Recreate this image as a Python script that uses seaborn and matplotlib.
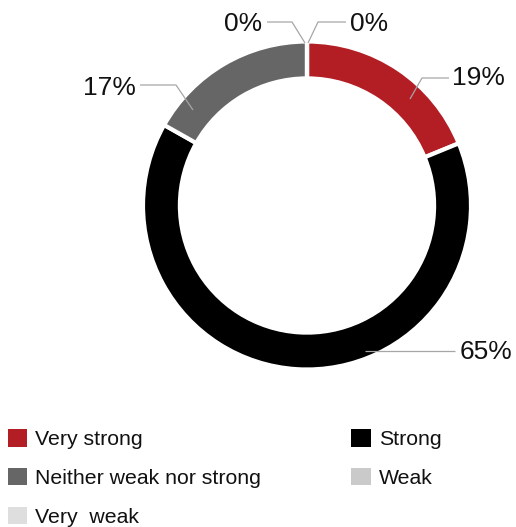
import matplotlib
matplotlib.use("Agg")
import matplotlib.pyplot as plt
from matplotlib.patches import Patch
import numpy as np
import seaborn as sns

# Survey answers and their shares (%)
categories = ["Very strong", "Strong", "Neither weak nor strong", "Weak", "Very  weak"]
shares = [19, 65, 17, 0, 0]
colors = ["#B31E24", "#000000", "#666666", "#C9CAC9", "#DDDEDD"]

sns.set_theme(style="white")
plt.rcParams["font.family"] = ["Liberation Sans", "DejaVu Sans"]

W, H = 516, 527
fig = plt.figure(figsize=(W / 100, H / 100), dpi=100)
ax = fig.add_axes([0, 0, 1, 1])

# ring geometry in pixels
cx, cy, R = 307, 205.5, 164

def to_data(px, py):
    return (px - cx) / R, (cy - py) / R

wedges, _ = ax.pie(
    shares, colors=colors, startangle=90, counterclock=False, radius=1,
    wedgeprops=dict(width=0.225, edgecolor="white", linewidth=3),
)

ax.set_xlim(-cx / R, (W - cx) / R)
ax.set_ylim(-(H - cy) / R, cy / R)
ax.set_aspect("auto")
ax.axis("off")

# leader lines (pixel layout): anchor, optional elbow, end, text anchor, alignment
label_layout = [
    dict(pts=[(410, 99), (422, 78), (449, 78)], text=(452, 78), ha="left"),
    dict(pts=[(365, 351), (455, 351)], text=(460, 352), ha="left"),
    dict(pts=[(193, 110), (176, 85), (140, 85)], text=(136, 88), ha="right"),
    dict(pts=[(305, 43), (292, 22), (267, 22)], text=(262, 24), ha="right"),
    dict(pts=[(308, 43), (318, 22), (346, 22)], text=(350, 24), ha="left"),
]

for val, lay in zip(shares, label_layout):
    xs, ys = zip(*[to_data(*p) for p in lay["pts"]])
    ax.plot(xs, ys, color="#A6A6A6", lw=0.9, solid_capstyle="butt")
    tx, ty = to_data(*lay["text"])
    ax.text(tx, ty, f"{val}%", ha=lay["ha"], va="center", fontsize=19, color="#111111")

# legend: two columns, filled column-wise
order = [0, 2, 4, 1, 3]
handles = [Patch(facecolor=colors[i], edgecolor="none") for i in order]
labels = [categories[i] for i in order]
fig.legend(
    handles, labels, ncol=2, loc="upper left",
    bbox_to_anchor=(8 / W, 1 - 429 / H), frameon=False,
    fontsize=15.3, handlelength=0.9, handleheight=0.9, handletextpad=0.38,
    labelspacing=0.88, columnspacing=4.25, borderpad=0, borderaxespad=0,
    labelcolor="#111111",
)

fig.savefig("out.png", dpi=100, facecolor="white")
